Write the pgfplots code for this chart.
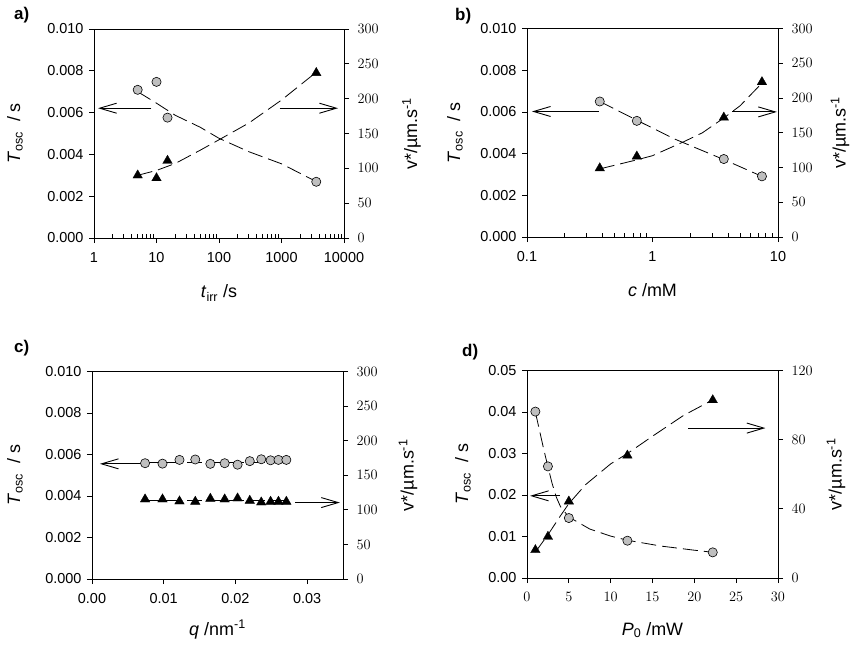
\documentclass[border=0pt]{standalone}
\usepackage{fontspec}
\setmainfont{Liberation Sans}
\usepackage{pgfplots}
\pgfplotsset{compat=1.18}
\usetikzlibrary{arrows.meta}

\newcommand\tickfont{\fontsize{14.5}{15}\selectfont}
\newcommand\labfont{\fontsize{18}{20}\selectfont}
\newcommand\panfont{\bfseries\fontsize{17}{18}\selectfont}

\pgfplotsset{
  base/.style={scale only axis, clip=false,
    axis line style={line width=0.8bp},
    tick style={black, line width=0.8bp},
    major tick length=5bp, minor tick length=4bp,
    tick label style={font=\tickfont},
    label style={font=\labfont}},
  leftax/.style={base, xtick pos=bottom, ytick pos=left, tick align=outside,
    scaled ticks=false, minor x tick style={yshift=4bp},
    yticklabel style={xshift=-2bp}, xticklabel style={yshift=-6bp}},
  rightax/.style={base, axis x line=none, axis y line*=right,
    ytick align=outside, scaled ticks=false, yticklabel style={xshift=5bp}},
  circ/.style={only marks, mark=*, mark size=4.6bp,
    mark options={fill=gray!50, draw=black, line width=0.6bp}},
  tri/.style={only marks, mark=triangle*, mark size=5.5bp,
    mark options={fill=black, draw=black, line width=0.3bp}},
  fit/.style={no marks, black, line width=0.8bp, dash pattern=on 15bp off 6bp},
}
\tikzset{arr/.style={line width=0.9bp, -{Straight Barb[length=17bp,width=10bp,line width=0.9bp]}}}

\newcommand\Tlab{\textit{T}\textsubscript{osc}\ \ / s}
\newcommand\vlab{v*/µm.s\textsuperscript{-1}}

\begin{document}
\begin{tikzpicture}
\path[use as bounding box] (0,0) rectangle (857bp,-656bp);

% ---------------- a) irradiation time ----------------
\begin{axis}[leftax, at={(94bp,-238bp)}, anchor=south west, width=250bp, height=209bp,
  xmode=log, xmin=1, xmax=10000, ymin=0, ymax=0.010,
  xtick={1,10,100,1000,10000}, xticklabels={1,10,100,1000,10000},
  minor xtick={2,3,4,5,6,7,8,9,20,30,40,50,60,70,80,90,200,300,400,500,600,700,800,900,2000,3000,4000,5000,6000,7000,8000,9000},
  ytick={0,0.002,0.004,0.006,0.008,0.010},
  yticklabels={0.000,0.002,0.004,0.006,0.008,0.010},
  xlabel={\textit{t}\textsubscript{irr} /s},
  xlabel style={at={(axis description cs:0.5,-0.287)}, anchor=base},
  ylabel={\Tlab},
  ylabel style={at={(axis description cs:-0.316,0.5)}, anchor=center}]
\addplot[fit] coordinates {(5,0.0070) (10,0.00645) (20,0.00587) (50,0.0053) (100,0.00477) (300,0.00413) (1000,0.00355) (3600,0.0027)};
\addplot[circ] coordinates {(5,0.00709) (10,0.00747) (15,0.00576) (3600,0.00269)};
\draw[arr] (axis cs:8.3,0.00621) -- (axis cs:1.16,0.00621);
\draw[arr] (axis cs:933,0.00621) -- (axis cs:8017,0.00621);
\end{axis}
\begin{axis}[rightax, at={(94bp,-238bp)}, anchor=south west, width=250bp, height=209bp,
  xmode=log, xmin=1, xmax=10000, ymin=0, ymax=300,
  ytick={0,50,100,150,200,250,300},
  ylabel={\vlab},
  ylabel style={at={(axis description cs:1.27,0.5)}, anchor=center}]
\addplot[fit] coordinates {(5,90) (10,97) (20,107) (50,126) (100,141) (300,165) (1000,198) (3600,238)};
\addplot[tri] coordinates {(5,90) (10,86) (15,111) (3600,237)};
\end{axis}

% ---------------- b) concentration ----------------
\begin{axis}[leftax, at={(527bp,-237bp)}, anchor=south west, width=251bp, height=208.5bp,
  xmode=log, xmin=0.1, xmax=10, ymin=0, ymax=0.010,
  xtick={0.1,1,10}, xticklabels={0.1,1,10},
  minor xtick={0.2,0.3,0.4,0.5,0.6,0.7,0.8,0.9,2,3,4,5,6,7,8,9},
  ytick={0,0.002,0.004,0.006,0.008,0.010},
  yticklabels={0.000,0.002,0.004,0.006,0.008,0.010},
  xlabel={\textit{c} /mM},
  xlabel style={at={(axis description cs:0.5,-0.287)}, anchor=base},
  ylabel={\Tlab},
  ylabel style={at={(axis description cs:-0.287,0.5)}, anchor=center}]
\addplot[fit] coordinates {(0.38,0.0065) (0.75,0.0056) (1.5,0.0047) (3.75,0.0037) (7.5,0.0029)};
\addplot[circ] coordinates {(0.38,0.0065) (0.75,0.00557) (3.7,0.00374) (7.45,0.00291)};
\draw[arr] (axis cs:0.372,0.00602) -- (axis cs:0.1096,0.00602);
\draw[arr] (axis cs:4.3,0.006) -- (axis cs:9.8,0.006);
\end{axis}
\begin{axis}[rightax, at={(527bp,-237bp)}, anchor=south west, width=251bp, height=208.5bp,
  xmode=log, xmin=0.1, xmax=10, ymin=0, ymax=300,
  ytick={0,50,100,150,200,250,300},
  ylabel={\vlab},
  ylabel style={at={(axis description cs:1.247,0.5)}, anchor=center}]
\addplot[fit] coordinates {(0.38,98) (0.75,111) (1,117) (1.77,137) (2.5,150) (3.75,172) (5,189) (7.5,222)};
\addplot[tri] coordinates {(0.38,99) (0.75,116) (3.7,172) (7.45,223)};
\end{axis}

% ---------------- c) wave vector ----------------
\begin{axis}[leftax, at={(92bp,-579bp)}, anchor=south west, width=251bp, height=207.5bp,
  xmin=0, xmax=0.035, ymin=0, ymax=0.010,
  xtick={0,0.01,0.02,0.03}, xticklabels={0.00,0.01,0.02,0.03},
  ytick={0,0.002,0.004,0.006,0.008,0.010},
  yticklabels={0.000,0.002,0.004,0.006,0.008,0.010},
  xlabel={\textit{q} /nm\textsuperscript{-1}},
  xlabel style={at={(axis description cs:0.5,-0.27)}, anchor=base},
  ylabel={\Tlab},
  ylabel style={at={(axis description cs:-0.307,0.5)}, anchor=center}]
\addplot[fit] coordinates {(0.0074,0.00562) (0.0271,0.00562)};
\addplot[circ] coordinates {(0.0074,0.00558) (0.00983,0.00556) (0.0122,0.00574) (0.0144,0.00576)
  (0.0165,0.00555) (0.0185,0.00558) (0.0203,0.00551) (0.0220,0.00568) (0.0236,0.00577)
  (0.0249,0.00572) (0.0260,0.00574) (0.0271,0.00574)};
\draw[arr] (axis cs:0.0072,0.00555) -- (axis cs:0.0011,0.00555);
\draw[arr] (axis cs:0.02836,0.003683) -- (axis cs:0.03456,0.003683);
\end{axis}
\begin{axis}[rightax, at={(92bp,-579bp)}, anchor=south west, width=251bp, height=207.5bp,
  xmin=0, xmax=0.035, ymin=0, ymax=300,
  ytick={0,50,100,150,200,250,300},
  ylabel={\vlab},
  ylabel style={at={(axis description cs:1.259,0.5)}, anchor=center}]
\addplot[fit] coordinates {(0.0074,113) (0.0271,113)};
\addplot[tri] coordinates {(0.0074,115.3) (0.00983,115.3) (0.0122,112.4) (0.0144,111.9)
  (0.0165,116.2) (0.0185,115.3) (0.0203,116.7) (0.0220,113.3) (0.0236,110.9)
  (0.0249,111.9) (0.0260,111.9) (0.0271,111.9)};
\end{axis}

% ---------------- d) laser power ----------------
\begin{axis}[leftax, at={(527bp,-578bp)}, anchor=south west, width=251bp, height=207.5bp,
  xmin=0, xmax=30, ymin=0, ymax=0.05,
  xtick={0,5,10,15,20,25,30},
  ytick={0,0.01,0.02,0.03,0.04,0.05},
  yticklabels={0.00,0.01,0.02,0.03,0.04,0.05},
  xlabel={\textit{P}\textsubscript{0} /mW},
  xlabel style={at={(axis description cs:0.5,-0.275)}, anchor=base},
  ylabel={\Tlab},
  ylabel style={at={(axis description cs:-0.255,0.5)}, anchor=center}]
\addplot[fit] coordinates {(1,0.0400) (1.5,0.0355) (2,0.031) (2.5,0.0268) (3,0.0228) (3.5,0.0195)
  (4,0.0172) (5,0.0147) (7.5,0.0118) (10,0.0101) (12,0.0091) (16,0.0077) (20,0.0067) (22.2,0.0062)};
\addplot[circ] coordinates {(1,0.0401) (2.5,0.0269) (5,0.01445) (12,0.00899) (22.2,0.00618)};
\draw[arr] (axis cs:3.95,0.0198) -- (axis cs:0.36,0.0198);
\draw[arr] (axis cs:19.3,0.036125) -- (axis cs:28.5,0.036125);
\end{axis}
\begin{axis}[rightax, at={(527bp,-578bp)}, anchor=south west, width=251bp, height=207.5bp,
  xmin=0, xmax=30, ymin=0, ymax=120,
  ytick={0,40,80,120},
  ylabel={\vlab},
  ylabel style={at={(axis description cs:1.231,0.5)}, anchor=center}]
\addplot[fit] coordinates {(1,15) (2.5,25) (4,36) (5,43) (7,54) (10,66) (12,72) (15,82) (18.7,94) (22.2,103)};
\addplot[tri] coordinates {(1,16.2) (2.5,23.9) (5,44.3) (12,70.9) (22.2,102.9)};
\end{axis}

% panel letters
\node[anchor=base west, inner sep=0, font=\panfont] at (14bp,-19.5bp) {a)};
\node[anchor=base west, inner sep=0, font=\panfont] at (455bp,-20bp) {b)};
\node[anchor=base west, inner sep=0, font=\panfont] at (14bp,-352bp) {c)};
\node[anchor=base west, inner sep=0, font=\panfont] at (462bp,-356bp) {d)};
\end{tikzpicture}
\end{document}
